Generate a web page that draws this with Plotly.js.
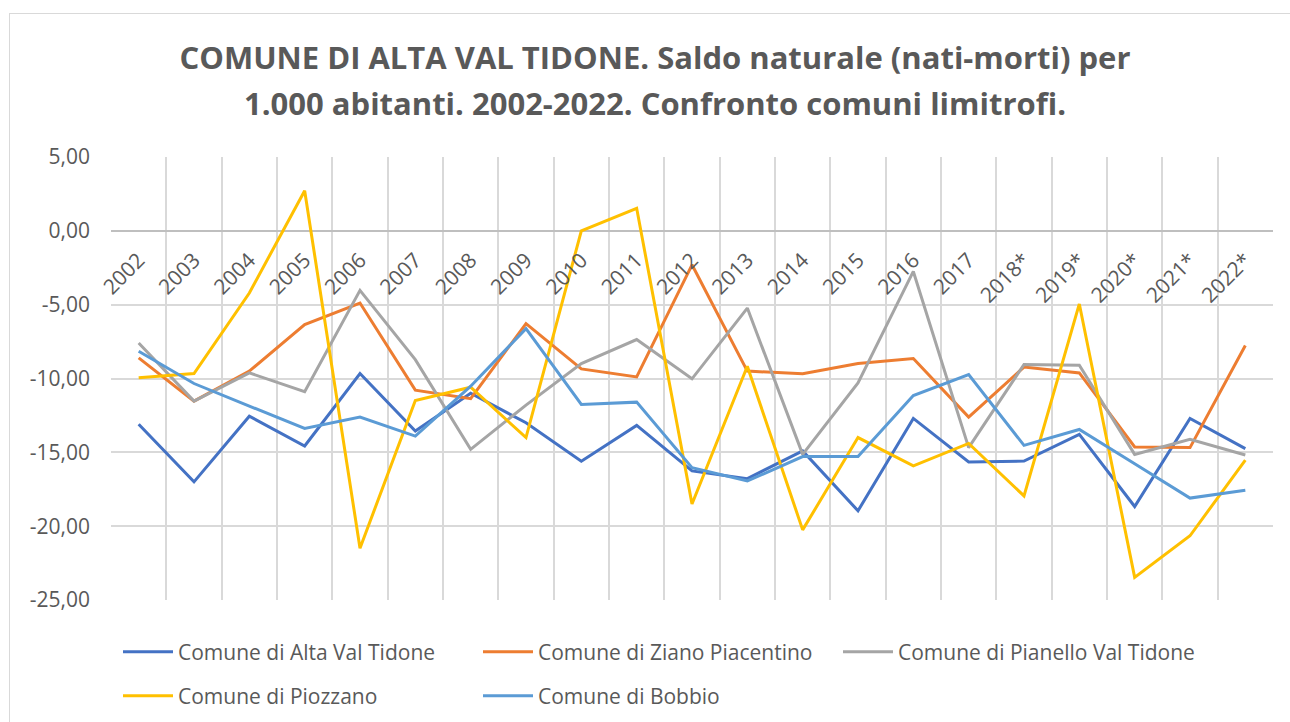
<!DOCTYPE html>
<html>
<head>
<meta charset="utf-8">
<script src="https://cdn.plot.ly/plotly-3.0.1.min.js"></script>
<style>
html,body{margin:0;padding:0;background:#fff;}
#wrap{position:relative;width:1290px;height:722px;overflow:hidden;}
#chart{width:1290px;height:722px;}
#frame{position:absolute;left:9px;top:13px;width:1400px;height:800px;border:1px solid #d9d9d9;pointer-events:none;}
</style>
</head>
<body>
<div id="wrap"><div id="chart"></div><div id="frame"></div></div>
<script>
const years = ['2002','2003','2004','2005','2006','2007','2008','2009','2010','2011','2012','2013','2014','2015','2016','2017','2018*','2019*','2020*','2021*','2022*'];

const altaValTidone = [-13.10,-17.00,-12.55,-14.57,-9.66,-13.56,-11.00,-13.00,-15.60,-13.18,-16.26,-16.78,-14.90,-18.96,-12.70,-15.65,-15.59,-13.78,-18.67,-12.70,-14.75];
const zianoPiacentino = [-8.60,-11.53,-9.50,-6.35,-4.89,-10.79,-11.37,-6.28,-9.35,-9.89,-2.30,-9.50,-9.68,-8.99,-8.65,-12.61,-9.23,-9.62,-14.64,-14.68,-7.77];
const pianelloValTidone = [-7.59,-11.53,-9.62,-10.90,-4.03,-8.72,-14.80,-11.80,-8.99,-7.36,-10.02,-5.23,-15.14,-10.30,-2.75,-14.68,-9.05,-9.10,-15.14,-14.12,-15.18];
const piozzano = [-9.95,-9.66,-4.21,2.72,-21.50,-11.49,-10.59,-14.00,0.00,1.53,-18.50,-9.17,-20.25,-14.00,-15.92,-14.40,-17.95,-4.95,-23.47,-20.65,-15.52];
const bobbio = [-8.15,-10.34,-11.87,-13.38,-12.61,-13.90,-10.52,-6.62,-11.76,-11.60,-16.04,-16.94,-15.29,-15.29,-11.15,-9.73,-14.53,-13.45,-15.77,-18.10,-17.57];

const seriesNames = ['Comune di Alta Val Tidone','Comune di Ziano Piacentino','Comune di Pianello Val Tidone','Comune di Piozzano','Comune di Bobbio'];
const seriesValues = [altaValTidone, zianoPiacentino, pianelloValTidone, piozzano, bobbio];
const seriesColors = ['#4472C4','#ED7D31','#A5A5A5','#FFC000','#5B9BD5'];
const seriesLegend = ['legend','legend','legend','legend2','legend2'];

const yTickVals = [5,0,-5,-10,-15,-20,-25];
const yTickText = ['5,00','0,00','-5,00','-10,00','-15,00','-20,00','-25,00'];

const titleLine1 = 'COMUNE DI ALTA VAL TIDONE. Saldo naturale (nati-morti) per';
const titleLine2 = '1.000 abitanti. 2002-2022. Confronto comuni limitrofi.';

const FONT = 'Open Sans, sans-serif';
const TXT = '#595959';

const traces = seriesNames.map((n, i) => ({
  type: 'scatter',
  mode: 'lines',
  name: n,
  x: years,
  y: seriesValues[i],
  line: {color: seriesColors[i], width: 3},
  legend: seriesLegend[i]
}));

const L = 111, R = 1273, T = 157, B = 600;
const W = 1290, H = 722;
const pw = R - L, ph = B - T;

const legendBase = {
  orientation: 'h',
  xref: 'container',
  yref: 'container',
  xanchor: 'left',
  yanchor: 'middle',
  x: 118 / W,
  entrywidth: 295,
  entrywidthmode: 'pixels',
  font: {family: FONT, size: 21, color: TXT},
  bgcolor: 'rgba(0,0,0,0)',
  itemwidth: 50
};

const layout = {
  width: W, height: H,
  margin: {l: L, r: W - R, t: T, b: H - B, pad: 0, autoexpand: false},
  paper_bgcolor: 'rgba(0,0,0,0)',
  plot_bgcolor: '#ffffff',
  font: {family: FONT, color: TXT},
  showlegend: true,
  title: {
    text: '<b>' + titleLine1 + '</b>',
    font: {family: FONT, size: 31, color: TXT},
    xref: 'container', x: 655 / W, xanchor: 'center',
    yref: 'container', y: 1 - 58 / H, yanchor: 'middle'
  },
  annotations: [{
    text: '<b>' + titleLine2 + '</b>',
    xref: 'paper', yref: 'paper',
    x: (655 - L) / pw, y: (B - 103) / ph,
    xanchor: 'center', yanchor: 'middle',
    showarrow: false,
    font: {family: FONT, size: 31, color: TXT}
  }],
  xaxis: {
    type: 'category',
    range: [-0.5, 20.5],
    tickson: 'boundaries',
    showgrid: true,
    gridcolor: '#d9d9d9',
    gridwidth: 2,
    ticks: '',
    tickangle: -45,
    anchor: 'free',
    position: 25 / 30,
    side: 'bottom',
    showline: false,
    zeroline: false,
    ticklabelstandoff: 12,
    tickfont: {family: FONT, size: 21, color: TXT}
  },
  yaxis: {
    range: [-25, 5],
    tickmode: 'array',
    tickvals: yTickVals,
    ticktext: yTickText,
    showgrid: true,
    gridcolor: '#d9d9d9',
    gridwidth: 2,
    zeroline: true,
    zerolinecolor: '#bfbfbf',
    zerolinewidth: 2,
    showline: false,
    ticks: '',
    ticklabelstandoff: 20,
    tickfont: {family: FONT, size: 21, color: TXT}
  },
  legend: Object.assign({}, legendBase, {y: 1 - 652 / H}),
  legend2: Object.assign({}, legendBase, {y: 1 - 696 / H})
};

Plotly.newPlot('chart', traces, layout, {displayModeBar: false, staticPlot: true});
</script>
</body>
</html>
